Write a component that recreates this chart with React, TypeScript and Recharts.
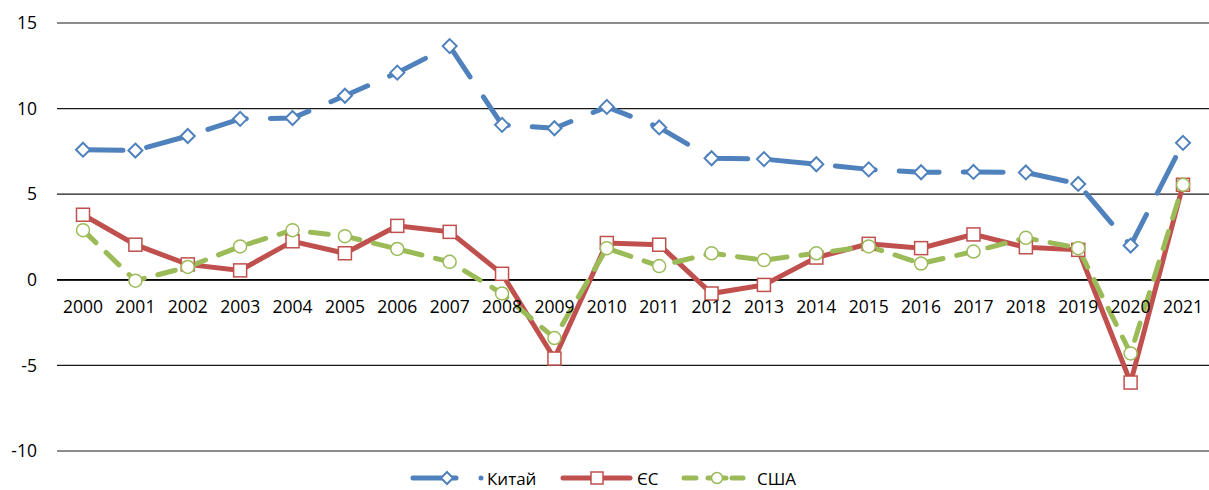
import React from 'react';
import { ComposedChart, Line, XAxis, YAxis, CartesianGrid, ReferenceLine } from 'recharts';

const years = ['2000', '2001', '2002', '2003', '2004', '2005', '2006', '2007', '2008', '2009', '2010', '2011', '2012', '2013', '2014', '2015', '2016', '2017', '2018', '2019', '2020', '2021'];
const china = [7.6, 7.55, 8.4, 9.4, 9.45, 10.75, 12.1, 13.65, 9.05, 8.85, 10.1, 8.9, 7.1, 7.05, 6.75, 6.45, 6.28, 6.3, 6.27, 5.6, 2.0, 8.0];
const eu = [3.8, 2.05, 0.9, 0.55, 2.25, 1.55, 3.15, 2.8, 0.35, -4.6, 2.15, 2.05, -0.8, -0.3, 1.3, 2.1, 1.85, 2.65, 1.9, 1.75, -6.0, 5.55];
const usa = [2.9, -0.05, 0.75, 1.95, 2.9, 2.55, 1.8, 1.05, -0.8, -3.4, 1.85, 0.8, 1.55, 1.15, 1.55, 1.95, 0.95, 1.65, 2.45, 1.85, -4.3, 5.55];
const yTicks = [-10, -5, 0, 5, 10, 15];

const data = years.map((year, i) => ({ year, china: china[i], eu: eu[i], usa: usa[i] }));

const W = 1209;
const H = 490;
const TOP = 23;
const BOTTOM = 38;
const PLOT_H = H - TOP - BOTTOM - 1;
const Y_MIN = -10;
const Y_MAX = 15;
const zeroY = TOP + (PLOT_H * Y_MAX) / (Y_MAX - Y_MIN);

const BLUE = '#4F81BD';
const RED = '#C0504D';
const GREEN = '#9BBB59';
const FONT = '"Open Sans", sans-serif';
const FS = 17.5;

const Diamond = (props: any) => {
  const { cx, cy, index } = props;
  if (cx == null || cy == null) return <g key={`d-${index}`} />;
  const s = 7;
  return (
    <polygon
      key={`d-${index}`}
      points={`${cx},${cy - s} ${cx + s},${cy} ${cx},${cy + s} ${cx - s},${cy}`}
      fill="#fff"
      stroke={BLUE}
      strokeWidth={2}
    />
  );
};

const Square = (props: any) => {
  const { cx, cy, index } = props;
  if (cx == null || cy == null) return <g key={`s-${index}`} />;
  return <rect key={`s-${index}`} x={cx - 6.5} y={cy - 6.5} width={13} height={13} fill="#fff" stroke={RED} strokeWidth={1.5} />;
};

const Circle = (props: any) => {
  const { cx, cy, index } = props;
  if (cx == null || cy == null) return <g key={`c-${index}`} />;
  return <circle key={`c-${index}`} cx={cx} cy={cy} r={6.5} fill="#fff" stroke={GREEN} strokeWidth={1.5} />;
};

// year labels sit just under the zero line, not at the bottom of the plot
const YearTick = (props: any) => {
  const { x, payload } = props;
  return (
    <text x={x} y={zeroY + 33} textAnchor="middle" fontSize={FS} fontFamily={FONT} fill="#000">
      {payload.value}
    </text>
  );
};

const LY = 18;
const Legend = () => (
  <svg width={W} height={30} style={{ position: 'absolute', left: 0, top: 460 }}>
    <g fontFamily={FONT} fontSize={17} fill="#000">
      <line x1={413} y1={LY} x2={456} y2={LY} stroke={BLUE} strokeWidth={5} strokeLinecap="round" />
      <polygon points={`447,${LY - 6} 453,${LY} 447,${LY + 6} 441,${LY}`} fill="#fff" stroke={BLUE} strokeWidth={2} />
      <circle cx={481} cy={LY} r={2.5} fill={BLUE} />
      <text x={487} y={LY} dominantBaseline="central">Китай</text>
      <line x1={563} y1={LY} x2={630} y2={LY} stroke={RED} strokeWidth={5} strokeLinecap="round" />
      <rect x={591} y={LY - 6} width={12} height={12} fill="#fff" stroke={RED} strokeWidth={1.5} />
      <text x={637} y={LY} dominantBaseline="central">ЄС</text>
      <line x1={684} y1={LY} x2={696} y2={LY} stroke={GREEN} strokeWidth={5} strokeLinecap="round" />
      <line x1={708} y1={LY} x2={726} y2={LY} stroke={GREEN} strokeWidth={5} strokeLinecap="round" />
      <line x1={732} y1={LY} x2={743} y2={LY} stroke={GREEN} strokeWidth={5} strokeLinecap="round" />
      <circle cx={717} cy={LY} r={5.5} fill="#fff" stroke={GREEN} strokeWidth={1.5} />
      <text x={757} y={LY} dominantBaseline="central">США</text>
    </g>
  </svg>
);

export default function App() {
  return (
    <div style={{ position: 'absolute', left: 0, top: 0, width: W, height: H, background: '#fff', overflow: 'hidden' }}>
      <ComposedChart width={W} height={H} data={data} margin={{ top: TOP, right: 0, bottom: BOTTOM, left: 0 }}>
        <CartesianGrid horizontal vertical={false} stroke="#1a1a1a" strokeWidth={1.2} />
        <XAxis
          dataKey="year"
          axisLine={false}
          tickLine={false}
          height={1}
          tick={<YearTick />}
          interval={0}
          padding={{ left: 26, right: 26 }}
        />
        <YAxis
          domain={[Y_MIN, Y_MAX]}
          ticks={yTicks}
          width={57}
          axisLine={false}
          tickLine={false}
          tickSize={0}
          tickMargin={20}
          tick={{ fontSize: FS, fontFamily: FONT, fill: '#000' }}
        />
        <ReferenceLine y={0} stroke="#000" strokeWidth={1.8} />
        <Line
          dataKey="china"
          stroke={BLUE}
          strokeWidth={5}
          strokeDasharray="40 24"
          strokeLinecap="round"
          dot={Diamond}
          activeDot={false}
          isAnimationActive={false}
        />
        <Line dataKey="eu" stroke={RED} strokeWidth={5} dot={Square} activeDot={false} isAnimationActive={false} />
        <Line
          dataKey="usa"
          stroke={GREEN}
          strokeWidth={5}
          strokeDasharray="18 14"
          strokeLinecap="round"
          dot={Circle}
          activeDot={false}
          isAnimationActive={false}
        />
      </ComposedChart>
      <Legend />
    </div>
  );
}
